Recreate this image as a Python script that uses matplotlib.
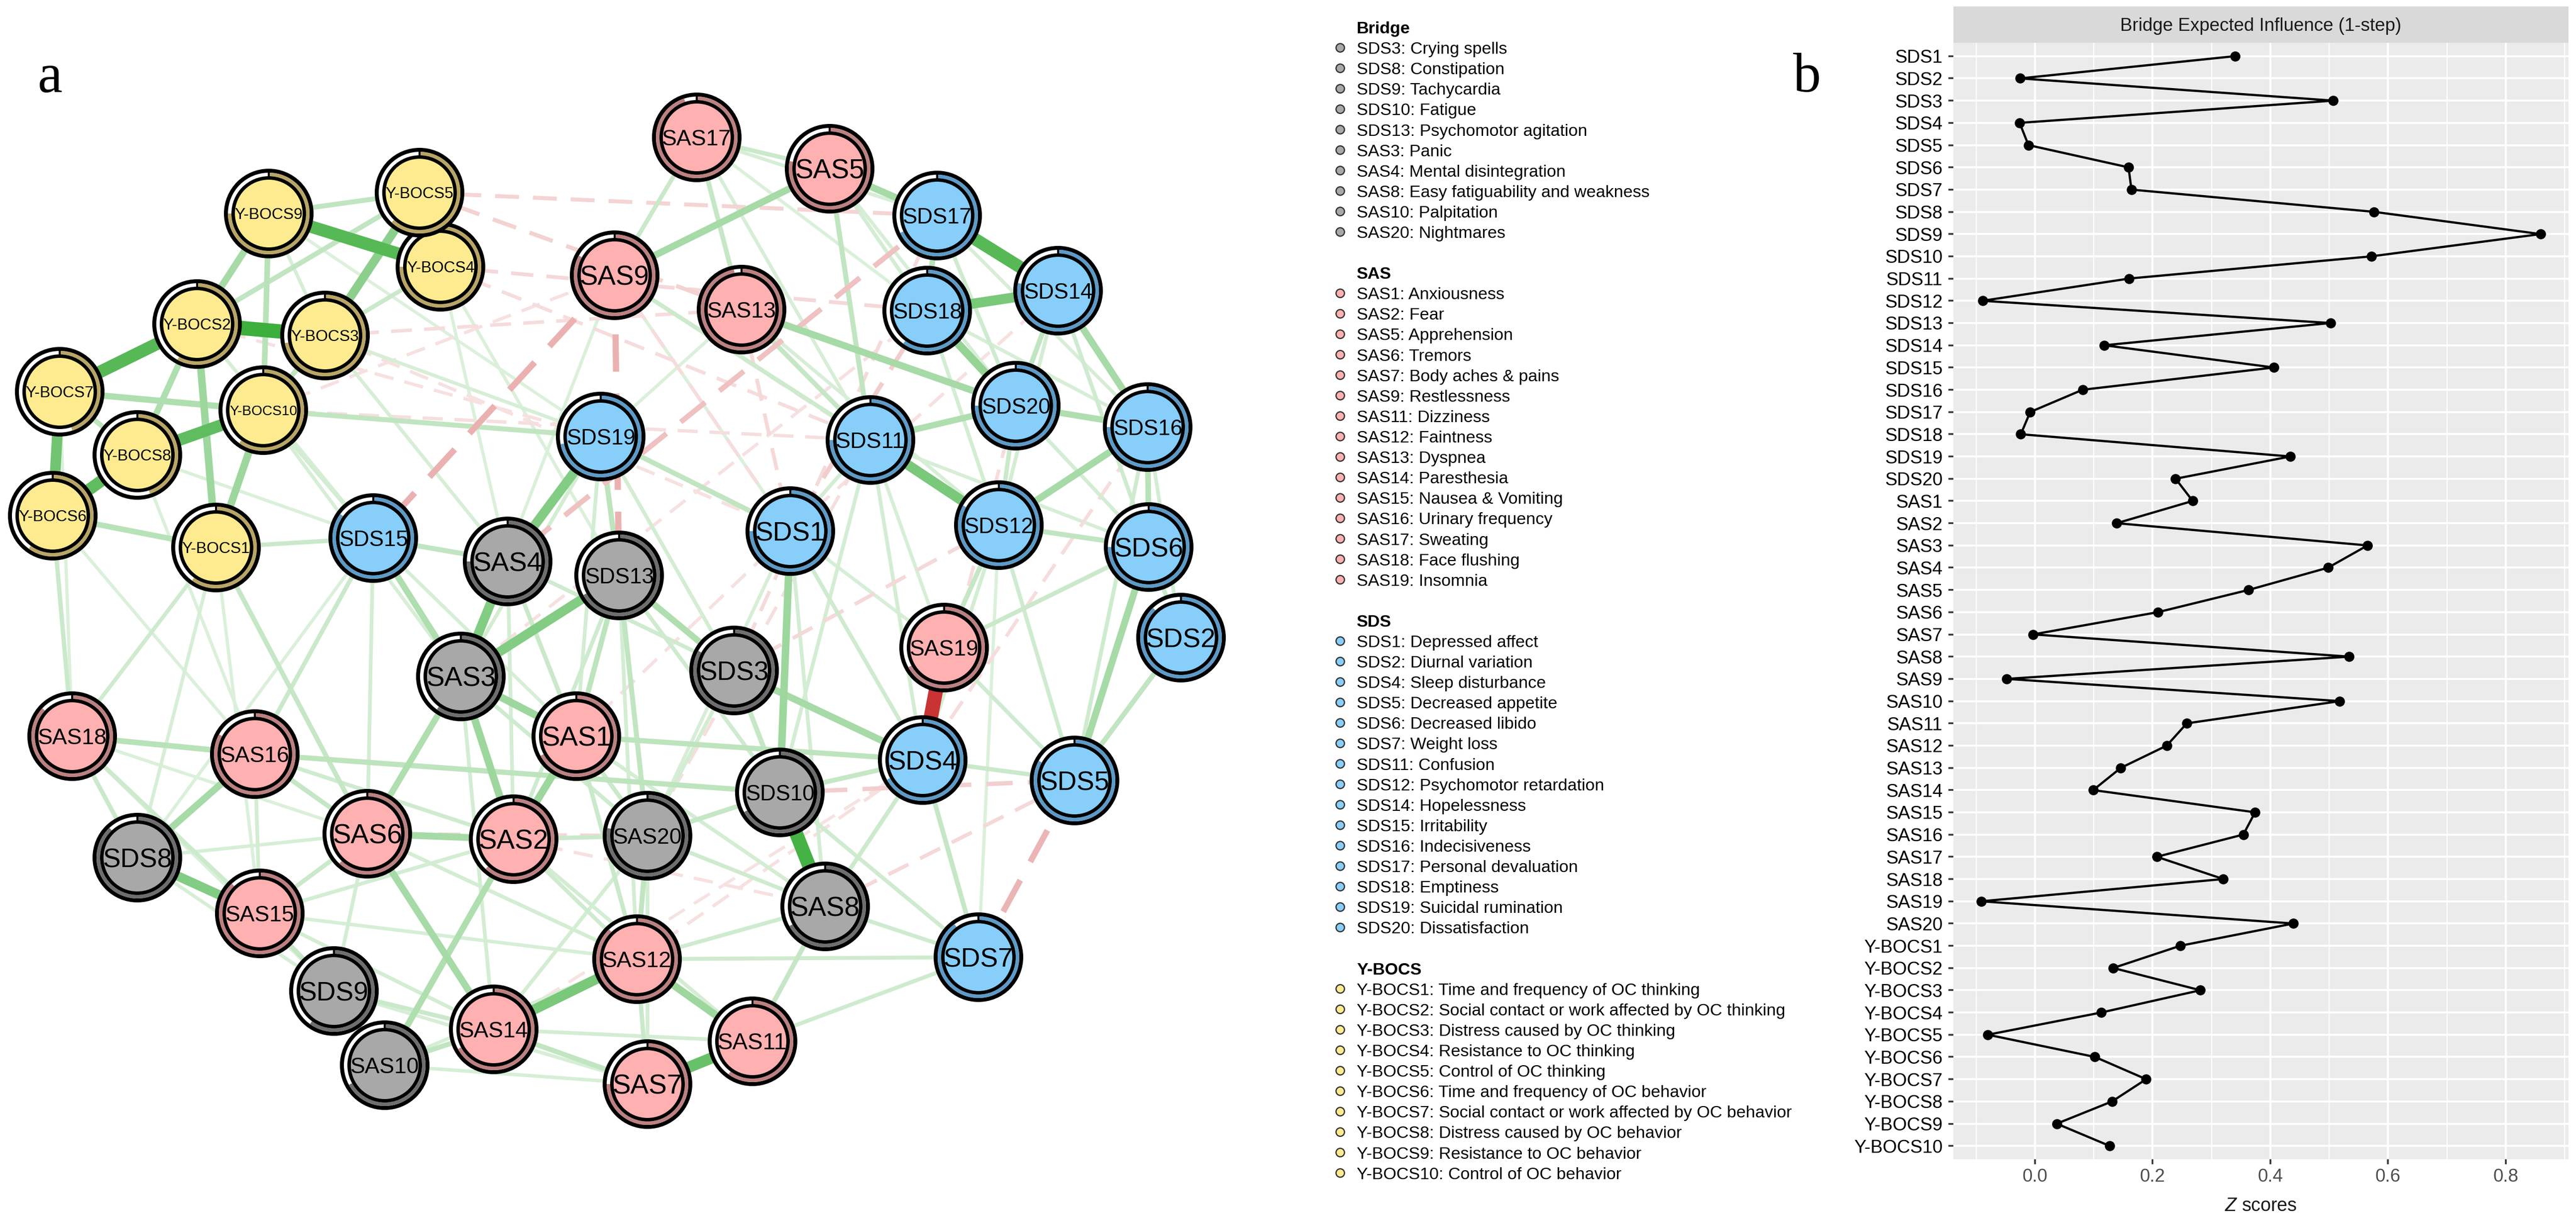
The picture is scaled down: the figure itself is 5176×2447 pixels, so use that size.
import numpy as np
import matplotlib
matplotlib.use('Agg')
import matplotlib.pyplot as plt
from matplotlib.patches import Circle, Wedge, Rectangle
from matplotlib.textpath import TextPath
from matplotlib.font_manager import FontProperties

plt.rcParams['font.family'] = ['Liberation Sans', 'DejaVu Sans']
plt.rcParams['mathtext.fontset'] = 'custom'
plt.rcParams['mathtext.it'] = 'Liberation Sans:italic'
plt.rcParams['mathtext.rm'] = 'Liberation Sans'

# ---------------- panel b: bridge expected influence ----------------
bei_nodes = (['SDS%d' % i for i in range(1, 21)] + ['SAS%d' % i for i in range(1, 21)]
             + ['Y-BOCS%d' % i for i in range(1, 11)])
bei_values = [0.340, -0.025, 0.507, -0.026, -0.011, 0.159, 0.164, 0.576, 0.859, 0.572,
              0.160, -0.089, 0.502, 0.118, 0.406, 0.081, -0.008, -0.024, 0.434, 0.239,
              0.268, 0.139, 0.565, 0.498, 0.363, 0.209, -0.003, 0.534, -0.048, 0.518,
              0.258, 0.224, 0.146, 0.099, 0.374, 0.354, 0.207, 0.320, -0.091, 0.439,
              0.247, 0.133, 0.281, 0.113, -0.080, 0.102, 0.189, 0.131, 0.037, 0.127]
bei_xticks = [0.0, 0.2, 0.4, 0.6, 0.8]
bei_xticklabels = ['0.0', '0.2', '0.4', '0.6', '0.8']

# ---------------- panel a: network layout (pixel layout of the qgraph plot) ----------------
node_names = ['Y-BOCS1', 'Y-BOCS2', 'Y-BOCS3', 'Y-BOCS4', 'Y-BOCS5', 'Y-BOCS6', 'Y-BOCS7',
              'Y-BOCS8', 'Y-BOCS9', 'Y-BOCS10',
              'SDS1', 'SDS2', 'SDS3', 'SDS4', 'SDS5', 'SDS6', 'SDS7', 'SDS8', 'SDS9', 'SDS10',
              'SDS11', 'SDS12', 'SDS13', 'SDS14', 'SDS15', 'SDS16', 'SDS17', 'SDS18', 'SDS19', 'SDS20',
              'SAS1', 'SAS2', 'SAS3', 'SAS4', 'SAS5', 'SAS6', 'SAS7', 'SAS8', 'SAS9', 'SAS10',
              'SAS11', 'SAS12', 'SAS13', 'SAS14', 'SAS15', 'SAS16', 'SAS17', 'SAS18', 'SAS19', 'SAS20']
node_x = [434, 396, 653, 885, 843, 106, 120, 276, 540, 529,
          1588, 2373, 1475, 1854, 2159, 2308, 1966, 276, 671, 1567,
          1749, 2007, 1244, 2126, 750, 2306, 1883, 1863, 1207, 2041,
          1158, 1032, 926, 1020, 1667, 738, 1301, 1658, 1235, 773,
          1512, 1280, 1490, 992, 522, 512, 1400, 145, 1897, 1301]
node_y = [1100, 651, 674, 536, 387, 1036, 787, 914, 429, 824,
          1067, 1281, 1347, 1527, 1568, 1099, 1923, 1723, 1991, 1592,
          884, 1055, 1156, 584, 1081, 858, 433, 624, 877, 815,
          1479, 1686, 1359, 1128, 339, 1675, 2178, 1821, 553, 2140,
          2092, 1927, 622, 2068, 1835, 1515, 276, 1479, 1301, 1679]
# predictability (share of the ring that is filled)
node_pred = [0.60, 0.58, 0.72, 0.75, 0.62, 0.60, 0.45, 0.45, 0.75, 0.60,
             0.75, 0.88, 0.83, 0.67, 0.83, 0.75, 0.90, 0.88, 0.60, 0.67,
             0.75, 0.83, 0.67, 0.78, 0.85, 0.75, 0.68, 0.60, 0.72, 0.75,
             0.67, 0.62, 0.60, 0.75, 0.78, 0.62, 0.75, 0.67, 0.83, 0.67,
             0.60, 0.88, 0.97, 0.67, 0.88, 0.83, 0.95, 0.87, 0.67, 0.78]
bridge_nodes = ['SDS3', 'SDS8', 'SDS9', 'SDS10', 'SDS13', 'SAS3', 'SAS4', 'SAS8', 'SAS10', 'SAS20']

pos_edges = [
    ('Y-BOCS2', 'Y-BOCS3', 0.95), ('Y-BOCS9', 'Y-BOCS4', 0.80), ('Y-BOCS2', 'Y-BOCS7', 0.80),
    ('Y-BOCS8', 'Y-BOCS10', 0.75), ('Y-BOCS8', 'Y-BOCS6', 0.75), ('Y-BOCS7', 'Y-BOCS6', 0.65),
    ('SDS17', 'SDS14', 0.80), ('SDS10', 'SAS8', 0.90), ('SAS7', 'SAS11', 0.70),
    ('SDS18', 'SDS14', 0.60), ('SDS11', 'SDS12', 0.60), ('SAS12', 'SAS14', 0.60),
    ('SDS8', 'SAS15', 0.55), ('SDS19', 'SAS4', 0.55), ('SAS4', 'SAS3', 0.55),
    ('SDS13', 'SAS3', 0.55), ('Y-BOCS5', 'Y-BOCS3', 0.50),
    ('Y-BOCS9', 'Y-BOCS2', 0.35), ('Y-BOCS2', 'Y-BOCS1', 0.40), ('Y-BOCS10', 'Y-BOCS1', 0.40),
    ('Y-BOCS2', 'Y-BOCS8', 0.30), ('Y-BOCS7', 'Y-BOCS10', 0.30), ('Y-BOCS9', 'Y-BOCS10', 0.25),
    ('Y-BOCS5', 'Y-BOCS9', 0.20), ('Y-BOCS5', 'Y-BOCS2', 0.20), ('Y-BOCS3', 'Y-BOCS10', 0.20),
    ('Y-BOCS6', 'Y-BOCS1', 0.25), ('Y-BOCS7', 'Y-BOCS8', 0.20), ('Y-BOCS5', 'Y-BOCS4', 0.20),
    ('Y-BOCS4', 'Y-BOCS3', 0.15),
    ('SDS18', 'SDS20', 0.45), ('SDS11', 'SDS20', 0.30), ('SDS20', 'SDS16', 0.30),
    ('SDS12', 'SDS16', 0.35), ('SDS14', 'SDS16', 0.35), ('SDS16', 'SDS6', 0.25),
    ('SDS6', 'SDS5', 0.35), ('SDS2', 'SDS5', 0.20), ('SAS5', 'SAS9', 0.35),
    ('SAS5', 'SDS17', 0.35), ('SAS13', 'SDS20', 0.35), ('SDS3', 'SDS4', 0.35),
    ('SDS13', 'SDS3', 0.30), ('SDS1', 'SDS10', 0.40), ('SAS3', 'SAS1', 0.40),
    ('SAS3', 'SAS2', 0.40), ('SAS3', 'SAS6', 0.30), ('SAS1', 'SAS2', 0.40),
    ('SAS6', 'SAS2', 0.35), ('SAS16', 'SDS8', 0.35), ('SAS18', 'SAS16', 0.25),
    ('SAS12', 'SAS11', 0.40), ('SAS6', 'SAS14', 0.35), ('SAS2', 'SAS10', 0.30),
    ('SDS15', 'SAS3', 0.30), ('SDS19', 'SDS13', 0.22), ('SDS13', 'SAS1', 0.22),
    ('SDS13', 'SAS20', 0.20), ('SDS8', 'SAS18', 0.15), ('SAS1', 'SDS4', 0.22),
    ('SAS16', 'SDS10', 0.22), ('SAS20', 'SAS12', 0.20), ('SAS8', 'SAS11', 0.18),
    ('SDS4', 'SDS5', 0.15), ('SDS12', 'SAS19', 0.18), ('SDS17', 'SDS18', 0.25),
    ('SDS14', 'SDS20', 0.20), ('SDS6', 'SDS12', 0.20), ('SAS17', 'SAS13', 0.18),
    ('SAS17', 'SAS5', 0.15), ('SAS17', 'SAS9', 0.15), ('SAS5', 'SDS11', 0.20),
    ('SAS13', 'SDS11', 0.18), ('SDS4', 'SDS7', 0.18), ('SAS8', 'SDS4', 0.14),
    ('SDS10', 'SDS4', 0.18), ('SAS20', 'SDS10', 0.18), ('SDS3', 'SAS8', 0.18),
    ('SAS15', 'SAS6', 0.15), ('SAS14', 'SAS10', 0.20), ('SAS14', 'SAS7', 0.20),
    ('SAS12', 'SAS7', 0.15), ('SAS16', 'SAS6', 0.18), ('SDS9', 'SAS10', 0.20),
    ('SDS9', 'SAS15', 0.18), ('SDS9', 'SAS14', 0.15), ('SDS15', 'SAS16', 0.15),
    ('SDS15', 'Y-BOCS1', 0.15), ('SDS19', 'Y-BOCS10', 0.20), ('SDS19', 'SDS1', 0.20),
    ('SAS18', 'Y-BOCS6', 0.15), ('SAS18', 'Y-BOCS1', 0.12), ('Y-BOCS1', 'SAS6', 0.18),
    ('SAS18', 'SAS15', 0.14), ('SDS15', 'SAS4', 0.20), ('SAS9', 'SDS11', 0.14),
    ('SAS19', 'SDS6', 0.15), ('SAS19', 'SDS5', 0.12), ('SDS10', 'SDS7', 0.12),
    ('SAS12', 'SDS7', 0.12), ('SAS11', 'SDS7', 0.12), ('SDS12', 'SDS5', 0.12),
    ('SAS1', 'SAS20', 0.15),
    ('Y-BOCS9', 'Y-BOCS3', 0.08), ('Y-BOCS4', 'SAS4', 0.06), ('Y-BOCS4', 'SDS13', 0.06),
    ('Y-BOCS3', 'SDS19', 0.08), ('Y-BOCS3', 'SAS4', 0.08), ('Y-BOCS2', 'SDS15', 0.08),
    ('Y-BOCS10', 'SDS15', 0.10), ('Y-BOCS10', 'SAS3', 0.08), ('Y-BOCS8', 'SDS15', 0.06),
    ('Y-BOCS7', 'SAS18', 0.06), ('Y-BOCS8', 'SAS16', 0.06), ('Y-BOCS1', 'SDS8', 0.08),
    ('Y-BOCS1', 'SAS15', 0.06), ('Y-BOCS6', 'SAS16', 0.06), ('Y-BOCS9', 'SDS19', 0.05),
    ('SAS17', 'SDS17', 0.08), ('SAS17', 'SDS11', 0.08), ('SAS17', 'SDS18', 0.06),
    ('SAS5', 'SDS18', 0.10), ('SAS5', 'SDS20', 0.08), ('SAS13', 'SDS12', 0.08),
    ('SAS9', 'SAS3', 0.06), ('SAS13', 'SDS19', 0.06), ('SAS9', 'SDS1', 0.06),
    ('SDS17', 'SDS20', 0.12), ('SDS17', 'SDS16', 0.08), ('SDS18', 'SDS16', 0.08),
    ('SDS18', 'SDS12', 0.10), ('SDS14', 'SDS12', 0.10), ('SDS14', 'SDS6', 0.12),
    ('SDS20', 'SDS12', 0.15), ('SDS20', 'SDS6', 0.10), ('SDS11', 'SDS6', 0.08),
    ('SDS11', 'SDS4', 0.10), ('SDS11', 'SDS10', 0.10), ('SDS12', 'SDS4', 0.10),
    ('SDS12', 'SDS7', 0.06), ('SDS16', 'SDS5', 0.12), ('SDS6', 'SDS2', 0.15),
    ('SDS16', 'SDS2', 0.10), ('SDS19', 'SAS3', 0.10), ('SDS19', 'SAS1', 0.10),
    ('SDS19', 'SDS3', 0.10), ('SDS15', 'SDS8', 0.06), ('SDS15', 'SAS6', 0.10),
    ('SDS15', 'SAS1', 0.08), ('SAS4', 'SAS1', 0.15), ('SAS4', 'SDS3', 0.12),
    ('SAS4', 'SAS2', 0.10), ('SDS13', 'SAS2', 0.12), ('SDS13', 'SDS10', 0.12),
    ('SDS13', 'SAS12', 0.10), ('SDS3', 'SAS20', 0.10), ('SDS3', 'SDS10', 0.12),
    ('SDS1', 'SDS4', 0.12), ('SDS1', 'SAS20', 0.08), ('SDS1', 'SAS8', 0.10),
    ('SDS1', 'SDS11', 0.10), ('SAS1', 'SAS12', 0.15), ('SAS1', 'SAS8', 0.10),
    ('SAS3', 'SAS20', 0.12), ('SAS3', 'SAS14', 0.10), ('SAS2', 'SAS20', 0.15),
    ('SAS2', 'SAS12', 0.12), ('SAS2', 'SAS11', 0.10), ('SAS2', 'SAS15', 0.10),
    ('SAS6', 'SAS12', 0.10), ('SAS6', 'SDS9', 0.10), ('SAS20', 'SAS8', 0.12),
    ('SAS20', 'SAS7', 0.10), ('SAS20', 'SAS14', 0.10), ('SAS12', 'SAS8', 0.12),
    ('SAS14', 'SAS11', 0.10), ('SDS9', 'SAS7', 0.08), ('SAS10', 'SAS7', 0.08),
    ('SAS10', 'SAS12', 0.08), ('SAS15', 'SAS14', 0.10), ('SAS15', 'SAS12', 0.08),
    ('SAS16', 'SAS2', 0.12), ('SAS16', 'SAS15', 0.10), ('SAS18', 'SDS9', 0.06),
    ('SAS18', 'SAS6', 0.06), ('SDS8', 'SAS6', 0.08), ('SDS8', 'SDS9', 0.08),
    ('SAS19', 'SDS1', 0.08), ('SAS19', 'SDS11', 0.08), ('SAS8', 'SDS7', 0.12),
]
neg_edges = [
    ('SAS19', 'SDS4', -0.95), ('SAS9', 'SDS13', -0.30), ('SAS9', 'SDS15', -0.30),
    ('SDS5', 'SDS7', -0.28), ('SDS17', 'SAS4', -0.22), ('SDS18', 'SDS1', -0.16),
    ('Y-BOCS5', 'SAS13', -0.13), ('Y-BOCS5', 'SDS17', -0.12), ('Y-BOCS4', 'SDS18', -0.10),
    ('Y-BOCS4', 'SDS11', -0.08), ('Y-BOCS10', 'SDS11', -0.07), ('Y-BOCS3', 'SAS13', -0.08),
    ('Y-BOCS2', 'SDS19', -0.06), ('SDS10', 'SDS5', -0.15), ('SAS6', 'SAS20', -0.10),
    ('SDS12', 'SDS3', -0.10), ('SAS13', 'SDS1', -0.10), ('SAS9', 'SDS1', -0.08),
    ('SDS17', 'SDS3', -0.09), ('SDS20', 'SDS4', -0.08), ('SDS16', 'SDS4', -0.08),
    ('SAS8', 'SDS5', -0.10), ('SAS12', 'SDS4', -0.06), ('SAS1', 'SDS1', -0.06),
    ('SAS2', 'SAS8', -0.06), ('SAS15', 'SAS2', -0.06), ('SAS14', 'SDS4', -0.05),
    ('Y-BOCS10', 'SAS9', -0.06), ('Y-BOCS3', 'SDS1', -0.06), ('SDS11', 'SAS20', -0.07),
    ('SDS14', 'SDS1', -0.06), ('SAS9', 'SDS12', -0.06), ('SDS18', 'SAS3', -0.06),
]

# ---------------- legend text ----------------
legend_groups = ['Bridge', 'SAS', 'SDS', 'Y-BOCS']
bridge_items = ['SDS3: Crying spells', 'SDS8: Constipation', 'SDS9: Tachycardia', 'SDS10: Fatigue',
                'SDS13: Psychomotor agitation', 'SAS3: Panic', 'SAS4: Mental disintegration',
                'SAS8: Easy fatiguability and weakness', 'SAS10: Palpitation', 'SAS20: Nightmares']
sas_items = ['SAS1: Anxiousness', 'SAS2: Fear', 'SAS5: Apprehension', 'SAS6: Tremors',
             'SAS7: Body aches & pains', 'SAS9: Restlessness', 'SAS11: Dizziness', 'SAS12: Faintness',
             'SAS13: Dyspnea', 'SAS14: Paresthesia', 'SAS15: Nausea & Vomiting',
             'SAS16: Urinary frequency', 'SAS17: Sweating', 'SAS18: Face flushing', 'SAS19: Insomnia']
sds_items = ['SDS1: Depressed affect', 'SDS2: Diurnal variation', 'SDS4: Sleep disturbance',
             'SDS5: Decreased appetite', 'SDS6: Decreased libido', 'SDS7: Weight loss',
             'SDS11: Confusion', 'SDS12: Psychomotor retardation', 'SDS14: Hopelessness',
             'SDS15: Irritability', 'SDS16: Indecisiveness', 'SDS17: Personal devaluation',
             'SDS18: Emptiness', 'SDS19: Suicidal rumination', 'SDS20: Dissatisfaction']
ybocs_items = ['Y-BOCS1: Time and frequency of OC thinking',
               'Y-BOCS2: Social contact or work affected by OC thinking',
               'Y-BOCS3: Distress caused by OC thinking', 'Y-BOCS4: Resistance to OC thinking',
               'Y-BOCS5: Control of OC thinking', 'Y-BOCS6: Time and frequency of OC behavior',
               'Y-BOCS7: Social contact or work affected by OC behavior',
               'Y-BOCS8: Distress caused by OC behavior', 'Y-BOCS9: Resistance to OC behavior',
               'Y-BOCS10: Control of OC behavior']

fill_col = {'Bridge': '#A8A8A8', 'SAS': '#FFB0B0', 'SDS': '#87CEFA', 'Y-BOCS': '#FFEB8F'}
ring_col = {'Bridge': '#6E6E6E', 'SAS': '#BE8080', 'SDS': '#5C9BC9', 'Y-BOCS': '#B9A564'}


def group_of(name):
    if name in bridge_nodes:
        return 'Bridge'
    return name.rstrip('0123456789')


def tint(rgb, t):
    return tuple(1 - t * (1 - c) for c in rgb)


W, H = 5176, 2447
PX = 72 / 100  # points per pixel at dpi 100

fig = plt.figure(figsize=(W / 100, H / 100), dpi=100)
cv = fig.add_axes([0, 0, 1, 1])
cv.set_xlim(0, W)
cv.set_ylim(H, 0)
cv.axis('off')

pos = dict(zip(node_names, zip(node_x, node_y)))

# edges, weakest first
GREEN = (0.20, 0.67, 0.20)
RED = (0.78, 0.16, 0.16)
edges = sorted(pos_edges + neg_edges, key=lambda e: abs(e[2]))
for a, b, w in edges:
    (x1, y1), (x2, y2) = pos[a], pos[b]
    if w > 0:
        col = tint(GREEN, 0.13 + 0.87 * w)
        ls = '-'
    else:
        col = tint(RED, 0.09 + 0.91 * abs(w))
        ls = '-' if abs(w) > 0.8 else (0, (6, 3.5))
    lw = (5 + 25 * abs(w)) * PX
    cv.plot([x1, x2], [y1, y2], color=col, lw=lw, ls=ls,
            solid_capstyle='butt', dash_capstyle='butt', zorder=1 + abs(w))

# nodes
R_OUT, R_PIE, R_IN, R_FILL = 90, 82, 75, 68
fp = FontProperties(family='Liberation Sans')
for i, (name, x, y, p) in enumerate(zip(node_names, node_x, node_y, node_pred)):
    g = group_of(name)
    z = 5 + i * 0.1
    cv.add_patch(Circle((x, y), R_OUT, fc='black', ec='none', zorder=z))
    cv.add_patch(Circle((x, y), R_PIE, fc='white', ec='none', zorder=z + 0.01))
    cv.add_patch(Wedge((x, y), R_PIE, 270, 270 + 360 * p, width=R_PIE - R_IN,
                       fc=ring_col[g], ec='none', zorder=z + 0.02))
    cv.plot([x, x], [y - R_PIE, y - R_IN + 2], color='black', lw=4 * PX, zorder=z + 0.03)
    cv.add_patch(Circle((x, y), R_IN, fc='black', ec='none', zorder=z + 0.04))
    cv.add_patch(Circle((x, y), R_FILL, fc=fill_col[g], ec='none', zorder=z + 0.05))
    ink = TextPath((0, 0), name, size=100, prop=fp).get_extents().width
    fpx = 100 * 135 / ink
    cv.text(x, y + 0.358 * fpx, name, ha='center', va='baseline', fontsize=fpx * PX,
            color='black', zorder=z + 0.06)

# legend
LX_DOT, LX_TXT, L0, LSTEP = 2693, 2726, 67, 41.1
line = 0
for grp, items in zip(legend_groups, [bridge_items, sas_items, sds_items, ybocs_items]):
    cv.text(LX_TXT, L0 + line * LSTEP, grp, fontsize=34 * PX, fontweight='bold',
            va='baseline', ha='left')
    line += 1
    for it in items:
        yb = L0 + line * LSTEP
        cv.add_patch(Circle((LX_DOT, yb - 12), 8.5, fc=fill_col[grp], ec='#333333', lw=2.5 * PX))
        cv.text(LX_TXT, yb, it, fontsize=34 * PX, va='baseline', ha='left')
        line += 1
    line += 1

# panel letters
serif = ['Liberation Serif', 'DejaVu Serif']
cv.text(75, 185, 'a', family=serif, fontsize=112 * PX, va='baseline')
cv.text(3603, 184, 'b', family=serif, fontsize=112 * PX, va='baseline')

# ---------------- panel b ----------------
PL, PR, PT, PB = 3925, 5161, 86, 2329
ax = fig.add_axes([PL / W, 1 - PB / H, (PR - PL) / W, (PB - PT) / H])
ypos = np.arange(len(bei_nodes))
ax.set_facecolor('#EBEBEB')
for s in ax.spines.values():
    s.set_visible(False)
ax.set_xlim(-0.1385, 0.9065)
ax.set_ylim(len(bei_nodes) - 1 + 0.6, -0.6)
ax.set_xticks(bei_xticks)
ax.set_xticklabels(bei_xticklabels)
ax.set_xticks([-0.1, 0.1, 0.3, 0.5, 0.7, 0.9], minor=True)
ax.set_yticks(ypos)
ax.set_yticklabels(bei_nodes)
ax.set_axisbelow(True)
ax.grid(which='major', color='white', lw=4 * PX)
ax.grid(which='minor', axis='x', color='white', lw=2 * PX)
ax.tick_params(axis='both', which='major', length=10 * PX, width=3.5 * PX, color='#333333',
               labelsize=26.5)
ax.tick_params(axis='x', which='minor', length=0)
ax.tick_params(axis='y', pad=8.5, labelcolor='black')
ax.tick_params(axis='x', pad=5.5, labelcolor='#4D4D4D')
ax.plot(bei_values, ypos, color='black', lw=4.5 * PX, marker='o', ms=19 * PX, zorder=3)

# facet strip and axis title
cv.add_patch(Rectangle((PL, 13), PR - PL, PT - 13, fc='#D9D9D9', ec='none'))
cv.text((PL + PR) / 2, 49.5 + 13, 'Bridge Expected Influence (1-step)', ha='center',
        va='baseline', fontsize=26.5, color='#1A1A1A')
cv.text((PL + PR) / 2, 2433, r'$Z$ scores', ha='center', va='baseline', fontsize=27,
        color='#1A1A1A')

fig.savefig('out.png', dpi=100)
